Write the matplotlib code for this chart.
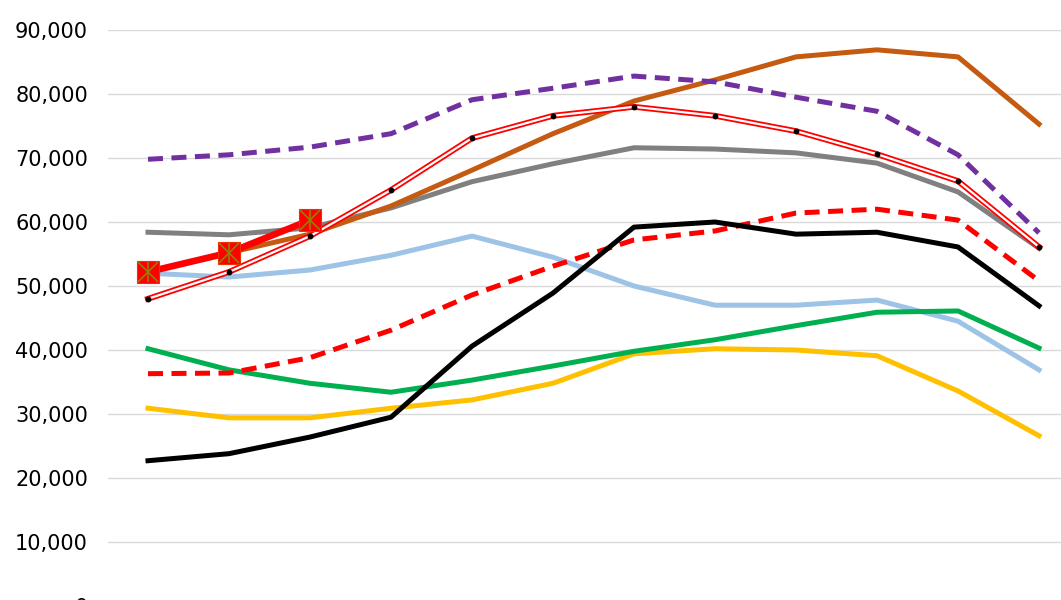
import numpy as np
import matplotlib
matplotlib.use("Agg")
import matplotlib.pyplot as plt
from matplotlib.ticker import FuncFormatter

NAN = np.nan
periods = list(range(12))

# series values
light_blue = [52000, 51400, 52500, 54800, 57800, 54500, 50000, 47000, 47000, 47800, 44500, 36900]
yellow     = [30900, 29400, 29400, 30900, 32200, 34800, 39400, 40200, 40000, 39100, 33600, 26600]
green      = [40200, 36900, 34800, 33400, 35300, 37500, 39800, 41600, 43800, 45900, 46100, 40300]
red_dash   = [36300, 36400, 38800, 43100, 48600, 53100, 57200, 58600, 61400, 62000, 60300, 50800]
black      = [22700, 23800, 26400, 29500, 40600, 48900, 59200, 60000, 58100, 58400, 56100, 46900]
gray       = [58400, 58000, 59100, 62200, 66300, 69100, 71600, 71400, 70800, 69200, 64700, 55900]
brown      = [NAN, 55200, 58100, 62500, 68100, 73800, 78900, 82200, 85800, 86900, 85800, 75300]
red_double = [48000, 52200, 57800, 65000, 73100, 76600, 78000, 76600, 74200, 70600, 66400, 56100]
purple     = [69800, 70500, 71700, 73800, 79100, 80900, 82800, 81900, 79500, 77300, 70500, 58300]
red_marked = [52200, 55200, 60300, NAN, NAN, NAN, NAN, NAN, NAN, NAN, NAN, NAN]

y_ticks = list(range(0, 90001, 10000))

plt.rcParams["font.family"] = ["DejaVu Sans"]

fig = plt.figure(figsize=(10.61, 6.0), dpi=100)
ax = fig.add_axes([107.5 / 1061, -6 / 600, 972 / 1061, 576 / 600])

lw = 3.6
dash = (0, (3.0, 1.7))
ax.plot(periods, light_blue, color="#9DC3E6", lw=lw, zorder=3)
ax.plot(periods, yellow, color="#FFC000", lw=lw, zorder=3)
ax.plot(periods, green, color="#00B050", lw=lw, zorder=3)
ax.plot(periods, red_dash, color="#FF0000", lw=lw, ls=dash, zorder=4)
ax.plot(periods, black, color="#000000", lw=lw, zorder=5)
ax.plot(periods, gray, color="#808080", lw=lw, zorder=5)
ax.plot(periods, brown, color="#C55A11", lw=lw, zorder=6)

# double red line: red outline with white core and small black dots
ax.plot(periods, red_double, color="#FF0000", lw=4.2, zorder=7)
ax.plot(periods, red_double, color="white", lw=1.6, zorder=7.1)
ax.plot(periods, red_double, ls="none", marker="o", ms=3.2, color="black", zorder=7.2)

ax.plot(periods, purple, color="#7030A0", lw=lw, ls=dash, zorder=8)

# thick red line with square markers (X plus a vertical stroke inside)
ax.plot(periods, red_marked, color="#FF0000", lw=4.8, zorder=9)
ax.plot(periods, red_marked, ls="none", marker="s", ms=16, mfc="#FF0000",
        mec="#F03000", mew=0.8, zorder=10)
ax.plot(periods, red_marked, ls="none", marker="x", ms=14, mec="#8A8A00",
        mew=1.1, zorder=11)
ax.plot(periods, red_marked, ls="none", marker="|", ms=14, mec="#8A8A00",
        mew=1.1, zorder=11)

ax.set_xlim(-0.5, 11.5)
ax.set_ylim(0, 90000)
ax.set_yticks(y_ticks)
ax.yaxis.set_major_formatter(FuncFormatter(lambda v, p: f"{int(v):,}"))
ax.set_xticks([])
ax.tick_params(axis="y", length=0, pad=14, labelsize=15, labelcolor="#000000")
ax.grid(axis="y", color="#D9D9D9", lw=1.0, zorder=0)
for s in ax.spines.values():
    s.set_visible(False)

fig.savefig("out.png", dpi=100)
